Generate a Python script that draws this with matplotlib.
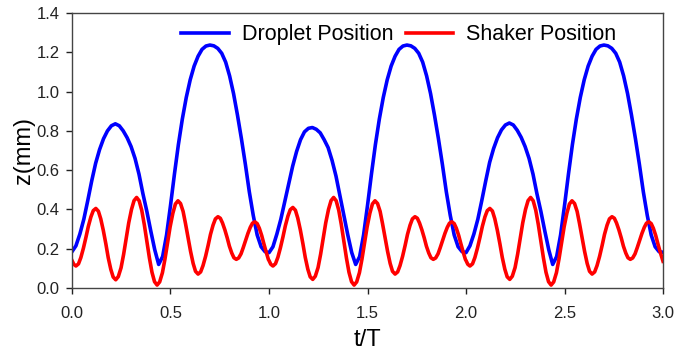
import numpy as np
import matplotlib
matplotlib.use("Agg")
import matplotlib.pyplot as plt

plt.rcParams['font.family'] = ['Liberation Sans', 'DejaVu Sans']

# droplet position, sampled every 0.02 t/T
drop_t = np.round(np.arange(151) * 0.02, 2)
drop_z = [
    # 0.00 - 0.98
    0.185, 0.215, 0.275, 0.350, 0.445, 0.545, 0.635, 0.705, 0.760, 0.800,
    0.826, 0.836, 0.826, 0.800, 0.765, 0.720, 0.660, 0.580, 0.480, 0.390,
    0.290, 0.195, 0.120, 0.160, 0.270, 0.420, 0.580, 0.730, 0.860, 0.970,
    1.060, 1.130, 1.180, 1.215, 1.232, 1.237, 1.233, 1.220, 1.195, 1.150,
    1.080, 0.990, 0.880, 0.760, 0.630, 0.490, 0.370, 0.270, 0.210, 0.185,
    # 1.00 - 1.98
    0.180, 0.210, 0.275, 0.350, 0.440, 0.530, 0.620, 0.695, 0.755, 0.795,
    0.813, 0.817, 0.808, 0.790, 0.755, 0.715, 0.650, 0.570, 0.470, 0.370,
    0.270, 0.180, 0.120, 0.160, 0.270, 0.420, 0.580, 0.730, 0.860, 0.970,
    1.060, 1.130, 1.180, 1.215, 1.232, 1.237, 1.233, 1.220, 1.195, 1.150,
    1.080, 0.990, 0.880, 0.760, 0.630, 0.490, 0.370, 0.270, 0.210, 0.185,
    # 2.00 - 2.98
    0.180, 0.215, 0.275, 0.350, 0.445, 0.545, 0.640, 0.710, 0.765, 0.805,
    0.830, 0.840, 0.830, 0.803, 0.767, 0.720, 0.660, 0.580, 0.480, 0.390,
    0.290, 0.195, 0.120, 0.160, 0.270, 0.420, 0.580, 0.730, 0.860, 0.970,
    1.060, 1.130, 1.180, 1.215, 1.232, 1.237, 1.233, 1.220, 1.195, 1.150,
    1.080, 0.990, 0.880, 0.760, 0.630, 0.490, 0.370, 0.270, 0.210, 0.185,
    # 3.00
    0.182,
]

# shaker position: peaks, troughs and points read between them
shaker_t = [
    # period 1
    0.000, 0.009, 0.020, 0.033, 0.045, 0.058, 0.071, 0.083, 0.096, 0.108,
    0.121, 0.134, 0.146, 0.159, 0.172, 0.184, 0.197, 0.209,
    0.222, 0.235, 0.249, 0.262, 0.275, 0.288, 0.302, 0.315,
    0.328, 0.341, 0.354, 0.367, 0.380, 0.393, 0.406, 0.419,
    0.432, 0.445, 0.459, 0.472, 0.485, 0.498, 0.512, 0.525,
    0.538, 0.551, 0.564, 0.576, 0.589, 0.602, 0.615, 0.627,
    0.640, 0.653, 0.665, 0.678, 0.691, 0.703, 0.716, 0.728,
    0.741, 0.753, 0.764, 0.776, 0.788, 0.799, 0.811, 0.822,
    0.834, 0.846, 0.858, 0.869, 0.881, 0.893, 0.905, 0.916,
    0.928, 0.940, 0.951, 0.963, 0.974, 0.986, 0.997,
    # period 2
    1.000, 1.009, 1.020, 1.033, 1.045, 1.058, 1.071, 1.083, 1.096, 1.108,
    1.121, 1.134, 1.146, 1.159, 1.172, 1.184, 1.197, 1.209,
    1.222, 1.235, 1.249, 1.262, 1.275, 1.288, 1.302, 1.315,
    1.328, 1.341, 1.354, 1.367, 1.380, 1.393, 1.406, 1.419,
    1.432, 1.445, 1.459, 1.472, 1.485, 1.498, 1.512, 1.525,
    1.538, 1.551, 1.564, 1.576, 1.589, 1.602, 1.615, 1.627,
    1.640, 1.653, 1.665, 1.678, 1.691, 1.703, 1.716, 1.728,
    1.741, 1.753, 1.764, 1.776, 1.788, 1.799, 1.811, 1.822,
    1.834, 1.846, 1.858, 1.869, 1.881, 1.893, 1.905, 1.916,
    1.928, 1.940, 1.951, 1.963, 1.974, 1.986, 1.997,
    # period 3
    2.000, 2.009, 2.020, 2.033, 2.045, 2.058, 2.071, 2.083, 2.096, 2.108,
    2.121, 2.134, 2.146, 2.159, 2.172, 2.184, 2.197, 2.209,
    2.222, 2.235, 2.249, 2.262, 2.275, 2.288, 2.302, 2.315,
    2.328, 2.341, 2.354, 2.367, 2.380, 2.393, 2.406, 2.419,
    2.432, 2.445, 2.459, 2.472, 2.485, 2.498, 2.512, 2.525,
    2.538, 2.551, 2.564, 2.576, 2.589, 2.602, 2.615, 2.627,
    2.640, 2.653, 2.665, 2.678, 2.691, 2.703, 2.716, 2.728,
    2.741, 2.753, 2.764, 2.776, 2.788, 2.799, 2.811, 2.822,
    2.834, 2.846, 2.858, 2.869, 2.881, 2.893, 2.905, 2.916,
    2.928, 2.940, 2.951, 2.963, 2.974, 2.986, 3.000,
]
shaker_z = [
    # period 1
    0.140, 0.121, 0.112, 0.123, 0.155, 0.203, 0.259, 0.314, 0.362, 0.394,
    0.405, 0.391, 0.352, 0.293, 0.224, 0.154, 0.095, 0.056,
    0.042, 0.058, 0.103, 0.171, 0.252, 0.332, 0.400, 0.445,
    0.461, 0.444, 0.396, 0.323, 0.238, 0.153, 0.080, 0.032,
    0.015, 0.031, 0.078, 0.148, 0.230, 0.311, 0.381, 0.428,
    0.444, 0.430, 0.390, 0.329, 0.258, 0.186, 0.125, 0.085,
    0.071, 0.082, 0.114, 0.161, 0.217, 0.273, 0.320, 0.352,
    0.363, 0.355, 0.331, 0.296, 0.255, 0.213, 0.178, 0.154,
    0.146, 0.153, 0.174, 0.205, 0.242, 0.278, 0.309, 0.330,
    0.337, 0.328, 0.304, 0.267, 0.225, 0.182, 0.145,
    # period 2
    0.140, 0.121, 0.112, 0.124, 0.156, 0.205, 0.261, 0.317, 0.366, 0.399,
    0.410, 0.396, 0.356, 0.296, 0.226, 0.156, 0.096, 0.057,
    0.044, 0.060, 0.104, 0.172, 0.252, 0.332, 0.400, 0.445,
    0.461, 0.444, 0.396, 0.323, 0.238, 0.153, 0.080, 0.032,
    0.015, 0.031, 0.078, 0.148, 0.230, 0.311, 0.381, 0.428,
    0.444, 0.430, 0.390, 0.329, 0.258, 0.186, 0.125, 0.085,
    0.071, 0.082, 0.114, 0.161, 0.217, 0.273, 0.320, 0.352,
    0.363, 0.355, 0.331, 0.296, 0.255, 0.213, 0.178, 0.154,
    0.146, 0.153, 0.174, 0.205, 0.242, 0.278, 0.309, 0.330,
    0.337, 0.328, 0.304, 0.267, 0.225, 0.182, 0.145,
    # period 3
    0.140, 0.121, 0.112, 0.123, 0.155, 0.203, 0.259, 0.314, 0.362, 0.394,
    0.405, 0.392, 0.353, 0.294, 0.225, 0.156, 0.096, 0.057,
    0.044, 0.060, 0.104, 0.172, 0.252, 0.332, 0.400, 0.445,
    0.461, 0.444, 0.396, 0.323, 0.238, 0.153, 0.080, 0.032,
    0.015, 0.031, 0.078, 0.148, 0.230, 0.311, 0.381, 0.428,
    0.444, 0.430, 0.390, 0.329, 0.258, 0.186, 0.125, 0.085,
    0.071, 0.082, 0.114, 0.161, 0.217, 0.273, 0.320, 0.352,
    0.363, 0.355, 0.331, 0.296, 0.255, 0.213, 0.178, 0.154,
    0.146, 0.153, 0.174, 0.205, 0.242, 0.278, 0.309, 0.330,
    0.337, 0.328, 0.304, 0.267, 0.225, 0.182, 0.136,
]

fig = plt.figure(figsize=(6.76, 3.54), dpi=100)
ax = fig.add_axes([0.1065, 0.1864, 0.8743, 0.7768])

ax.plot(drop_t, drop_z, color='#0000ff', lw=2.6, label='Droplet Position')
ax.plot(shaker_t, shaker_z, color='#ff0000', lw=2.6, label='Shaker Position')

ax.set_xlim(0, 3.0)
ax.set_ylim(0, 1.4)
ax.set_xticks(np.arange(0, 3.01, 0.5))
ax.set_yticks(np.arange(0, 1.41, 0.2))
ax.xaxis.set_major_formatter(matplotlib.ticker.FormatStrFormatter('%.1f'))
ax.yaxis.set_major_formatter(matplotlib.ticker.FormatStrFormatter('%.1f'))
ax.tick_params(direction='out', length=4, width=1, labelsize=12, colors='#222222')
ax.tick_params(axis='x', pad=9)
ax.tick_params(axis='y', pad=5)
for s in ax.spines.values():
    s.set_color('#444444')
    s.set_linewidth(1)

ax.set_xlabel('t/T', fontsize=17, labelpad=6)
ax.set_ylabel('z(mm)', fontsize=17, labelpad=1)

ax.legend(loc='upper center', bbox_to_anchor=(0.553, 1.03), ncol=2, frameon=False,
          fontsize=15.5, handlelength=2.2, handletextpad=0.6, columnspacing=0.6)

fig.savefig('out.png', dpi=100)
